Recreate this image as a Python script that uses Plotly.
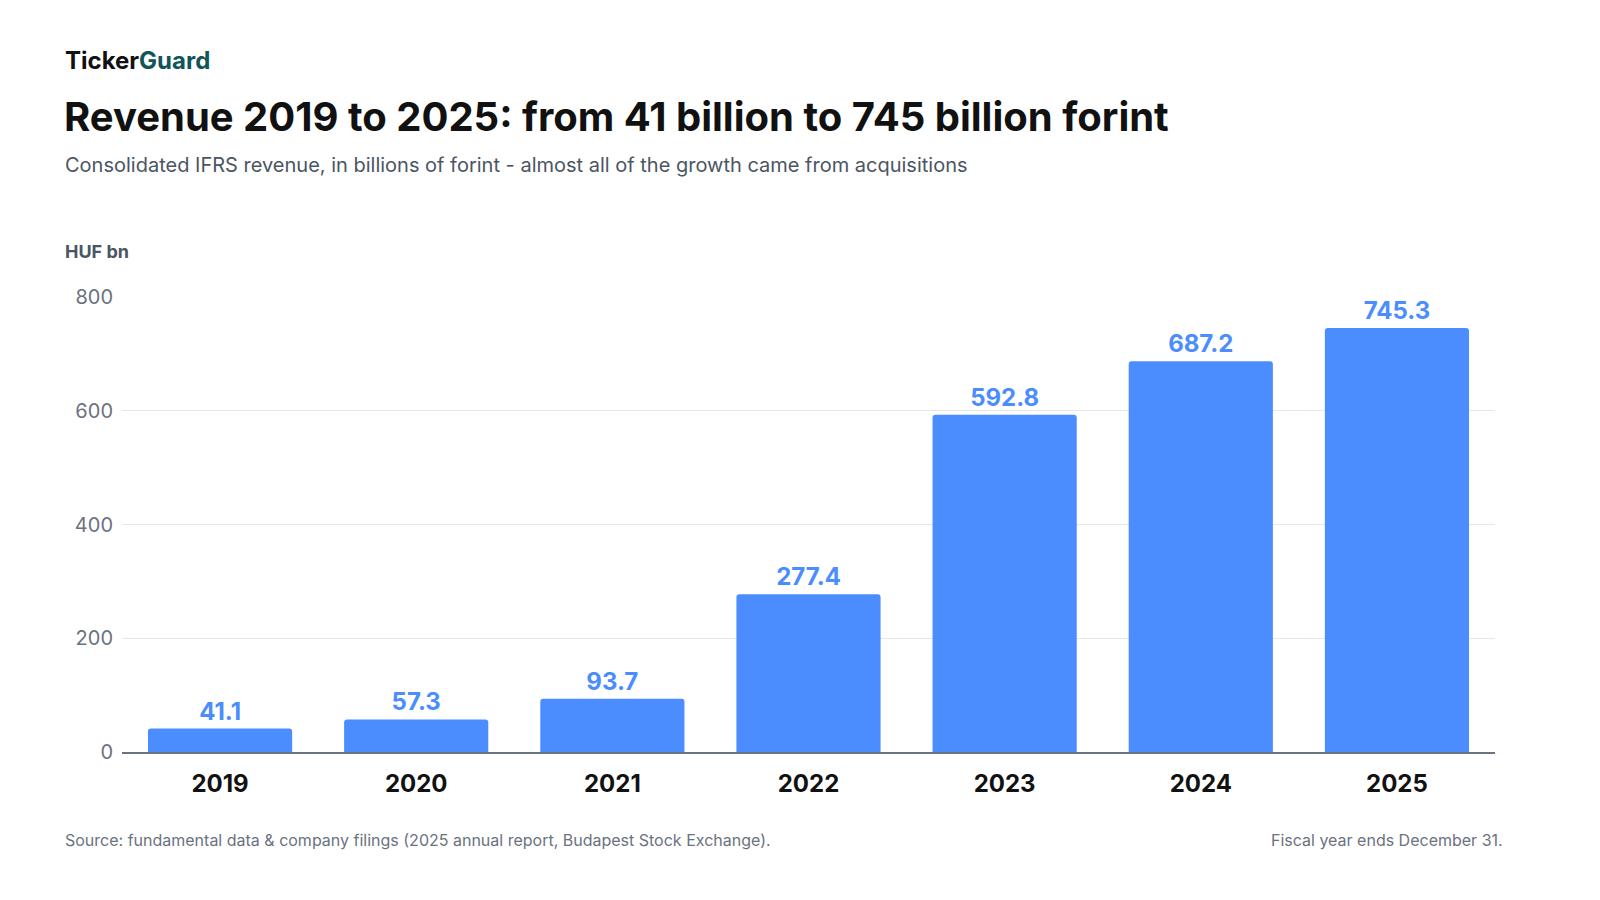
import plotly.graph_objects as go

years = ["2019", "2020", "2021", "2022", "2023", "2024", "2025"]
revenue = [41.1, 57.3, 93.7, 277.4, 592.8, 687.2, 745.3]
y_ticks = [0, 200, 400, 600, 800]

BLUE = "#4B8DFF"
FONT = "Inter"

fig = go.Figure()
fig.add_trace(go.Bar(
    x=years, y=revenue,
    marker=dict(color=BLUE, cornerradius=3, line=dict(width=0)),
    text=[f"{v:.1f}" for v in revenue],
    textposition="outside",
    textfont=dict(family=FONT, size=24, color=BLUE, weight="bold"),
    cliponaxis=False,
    hoverinfo="skip",
))

fig.update_layout(
    width=1600, height=900,
    paper_bgcolor="white", plot_bgcolor="white",
    margin=dict(l=122, r=105, t=297, b=148),
    bargap=0.265,
    showlegend=False,
    font=dict(family=FONT),
    xaxis=dict(
        type="category",
        showgrid=False,
        showline=True, linecolor="#6B7280", linewidth=1.5,
        ticks="", tickfont=dict(family=FONT, size=24, color="#111111", weight="bold"),
        ticklabelstandoff=9,
    ),
    yaxis=dict(
        range=[0, 800],
        tickvals=y_ticks,
        showgrid=True, gridcolor="#E5E7EB", gridwidth=1.2,
        zeroline=False, showline=False, ticks="",
        tickfont=dict(family=FONT, size=20, color="#6B7280"),
        ticklabelstandoff=8,
    ),
)

annotations = [
    dict(text="<b>Ticker</b><b><span style='color:#0F5559'>Guard</span></b>", x=63, y=60,
         font=dict(family=FONT, size=24, color="#111111")),
    dict(text="<b>Revenue 2019 to 2025: from 41 billion to 745 billion forint</b>", x=62, y=116,
         font=dict(family=FONT, size=40, color="#111111")),
    dict(text="Consolidated IFRS revenue, in billions of forint - almost all of the growth came from acquisitions",
         x=63, y=165, font=dict(family=FONT, size=20, color="#4B5563")),
    dict(text="<b>HUF bn</b>", x=63, y=252, font=dict(family=FONT, size=18, color="#4B5563")),
    dict(text="Source: fundamental data & company filings (2025 annual report, Budapest Stock Exchange).",
         x=63, y=840, font=dict(family=FONT, size=16, color="#6B7280")),
]
for a in annotations:
    fig.add_annotation(text=a["text"], xref="paper", yref="paper",
                       x=(a["x"] - 122) / (1600 - 122 - 105),
                       y=1 - (a["y"] - 297) / (900 - 297 - 148),
                       xanchor="left", yanchor="middle", showarrow=False, font=a["font"])
fig.add_annotation(text="Fiscal year ends December 31.", xref="paper", yref="paper",
                   x=(1505 - 122) / (1600 - 122 - 105), y=1 - (840 - 297) / (900 - 297 - 148),
                   xanchor="right", yanchor="middle", showarrow=False,
                   font=dict(family=FONT, size=16, color="#6B7280"))

fig.write_html("out.html", config={"displayModeBar": False},
               post_script="document.body.style.margin='0';document.body.style.overflow='hidden';")
